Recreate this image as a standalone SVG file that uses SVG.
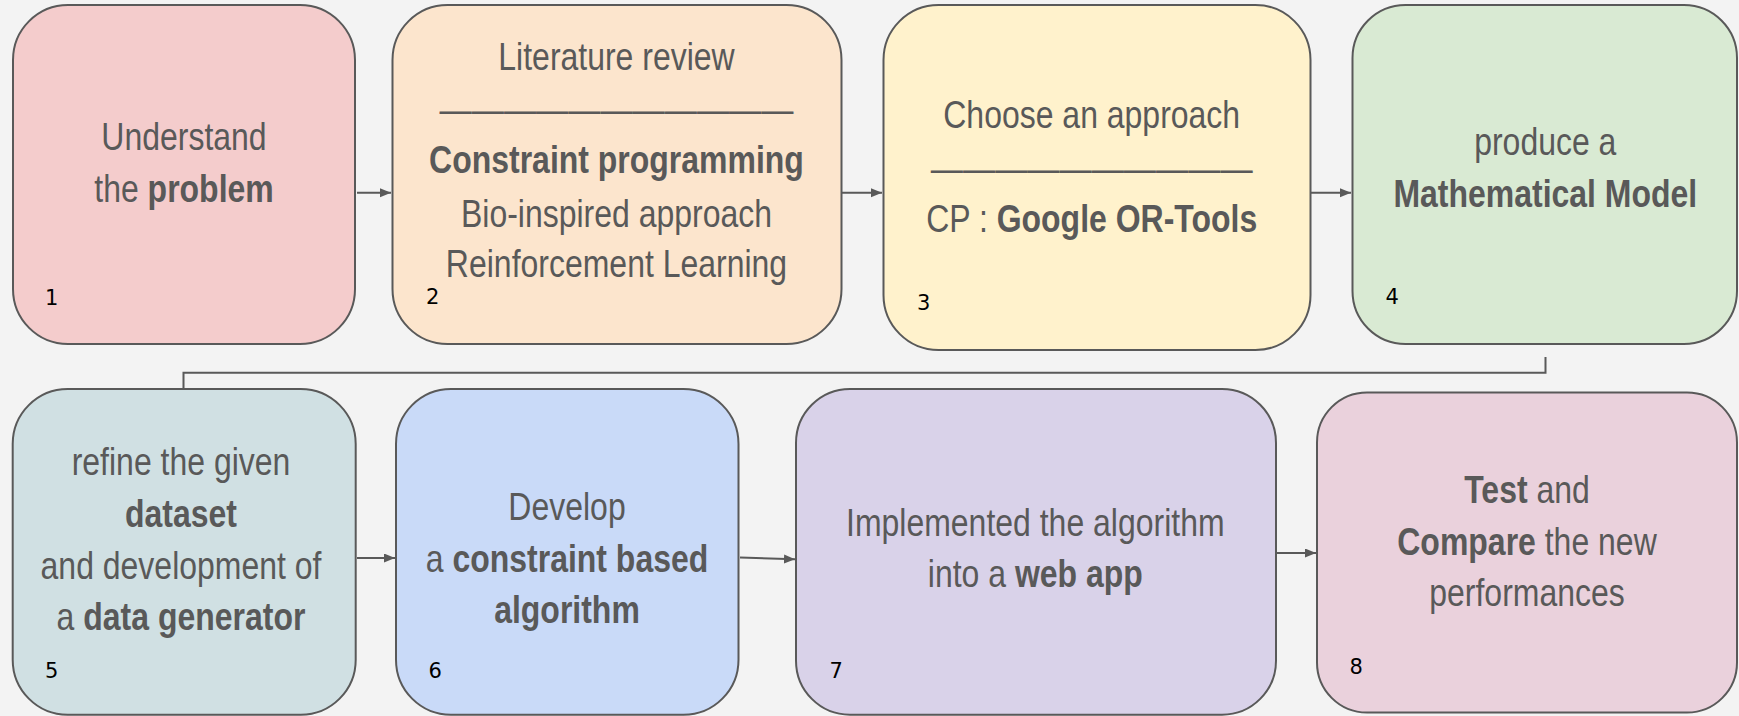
<svg xmlns="http://www.w3.org/2000/svg" width="1739" height="716" viewBox="0 0 1739 716">
<defs>
<style>
.box{stroke:#595959;stroke-width:2}
.t{font-family:"Liberation Sans",Arial,sans-serif;font-size:39px;fill:#595959;text-anchor:middle}
.b{font-weight:bold}
.n{font-family:"DejaVu Sans",sans-serif;font-size:21px;fill:#000}
.c{fill:none;stroke:#595959;stroke-width:2}
</style>
<marker id="ah" markerUnits="userSpaceOnUse" markerWidth="12" markerHeight="10" refX="11" refY="4.5" orient="auto">
<path d="M0,0 L11,4.5 L0,9 z" fill="#595959"/>
</marker>
</defs>
<rect width="1739" height="716" fill="#f3f3f3"/>
<g id="connectors">
<path class="c" d="M357,192.7 H391" marker-end="url(#ah)"/>
<path class="c" d="M842,192.7 H882" marker-end="url(#ah)"/>
<path class="c" d="M1311,192.7 H1351" marker-end="url(#ah)"/>
<path class="c" d="M1545.5,357 V372.7 H183.5 V388"/>
<path class="c" d="M357,558 H395" marker-end="url(#ah)"/>
<path class="c" d="M740,557.5 L795,559.3" marker-end="url(#ah)"/>
<path class="c" d="M1277,553 H1316" marker-end="url(#ah)"/>
</g>
<g id="n1">
<rect class="box" x="13" y="5" width="342" height="339" rx="55" fill="#f4cccc"/>
<text class="t" transform="matrix(0.82 0 0 1 184 150)">Understand</text>
<text class="t" transform="matrix(0.82 0 0 1 184 201.7)">the <tspan class="b">problem</tspan></text>
<text class="n" x="45" y="305">1</text>
</g>
<g id="n2">
<rect class="box" x="392.5" y="5" width="449" height="339" rx="55" fill="#fce5cd"/>
<text class="t" transform="matrix(0.82 0 0 1 616.5 70)">Literature review</text>
<text class="t" transform="matrix(0.825 0 0 1 616.5 123.2)">———————————</text>
<text class="t b" transform="matrix(0.82 0 0 1 616.5 173.3)">Constraint programming</text>
<text class="t" transform="matrix(0.82 0 0 1 616.5 226.7)">Bio-inspired approach</text>
<text class="t" transform="matrix(0.82 0 0 1 616.5 277)">Reinforcement Learning</text>
<text class="n" x="426" y="304">2</text>
</g>
<g id="n3">
<rect class="box" x="883.5" y="5" width="427" height="345" rx="55" fill="#fff2cc"/>
<text class="t" transform="matrix(0.82 0 0 1 1091.7 128.3)">Choose an approach</text>
<text class="t" transform="matrix(0.825 0 0 1 1091.7 181.5)">——————————</text>
<text class="t" transform="matrix(0.82 0 0 1 1091.7 231.7)">CP : <tspan class="b">Google OR-Tools</tspan></text>
<text class="n" x="917" y="310">3</text>
</g>
<g id="n4">
<rect class="box" x="1352.5" y="5" width="384.5" height="339" rx="53" fill="#d9ead3"/>
<text class="t" transform="matrix(0.82 0 0 1 1545.3 155)">produce a</text>
<text class="t b" transform="matrix(0.82 0 0 1 1545.3 206.7)">Mathematical Model</text>
<text class="n" x="1385.5" y="304">4</text>
</g>
<g id="n5">
<rect class="box" x="12.7" y="389" width="343" height="325.7" rx="55" fill="#d0e0e3"/>
<text class="t" transform="matrix(0.82 0 0 1 181 475)">refine the given</text>
<text class="t b" transform="matrix(0.82 0 0 1 181 526.7)">dataset</text>
<text class="t" transform="matrix(0.82 0 0 1 181 578.7)">and development of</text>
<text class="t" transform="matrix(0.82 0 0 1 181 630)">a <tspan class="b">data generator</tspan></text>
<text class="n" x="45" y="678.3">5</text>
</g>
<g id="n6">
<rect class="box" x="396" y="389" width="342.5" height="325.7" rx="55" fill="#c9daf8"/>
<text class="t" transform="matrix(0.82 0 0 1 567 520)">Develop</text>
<text class="t" transform="matrix(0.82 0 0 1 567 572)">a <tspan class="b">constraint based</tspan></text>
<text class="t b" transform="matrix(0.82 0 0 1 567 622.7)">algorithm</text>
<text class="n" x="428.5" y="677.7">6</text>
</g>
<g id="n7">
<rect class="box" x="796" y="389" width="480" height="325.7" rx="54" fill="#d9d2e9"/>
<text class="t" transform="matrix(0.82 0 0 1 1035.3 536)">Implemented the algorithm</text>
<text class="t" transform="matrix(0.82 0 0 1 1035.3 586.7)">into a <tspan class="b">web app</tspan></text>
<text class="n" x="829.5" y="677.7">7</text>
</g>
<g id="n8">
<rect class="box" x="1317" y="392.5" width="420" height="320" rx="50" fill="#ead1dc"/>
<text class="t" transform="matrix(0.82 0 0 1 1527 502.7)"><tspan class="b">Test</tspan> and</text>
<text class="t" transform="matrix(0.82 0 0 1 1527 555)"><tspan class="b">Compare</tspan> the new</text>
<text class="t" transform="matrix(0.82 0 0 1 1527 606)">performances</text>
<text class="n" x="1349.5" y="674">8</text>
</g>
</svg>
